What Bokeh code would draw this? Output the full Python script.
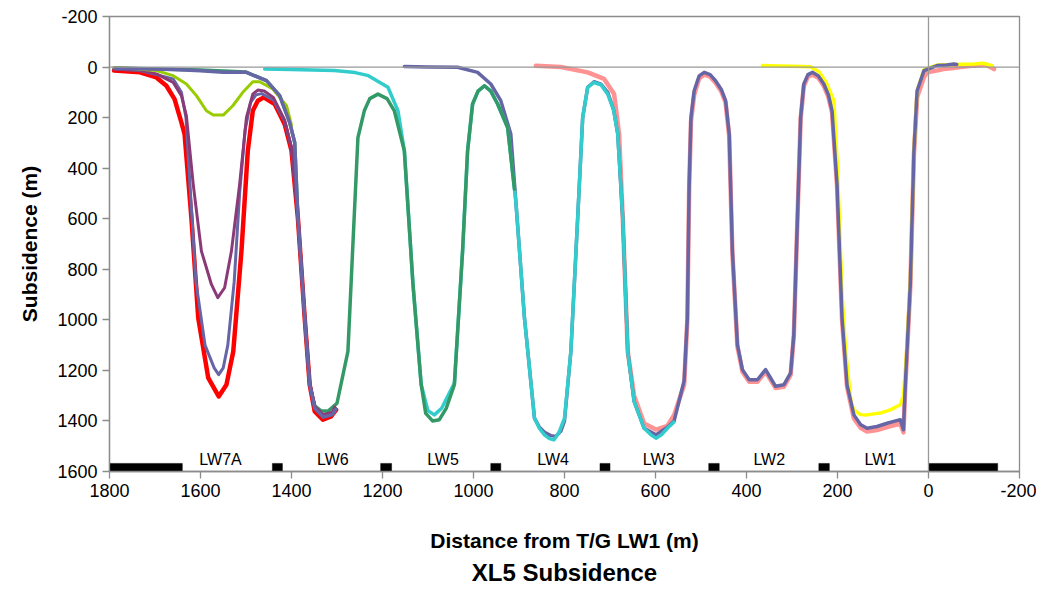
from bokeh.plotting import figure
from bokeh.models import Range1d, FixedTicker, Span, Title
from bokeh.core.properties import value
from bokeh.embed import file_html
from bokeh.resources import INLINE

# ---------------- data ----------------
x_ticks = [1800, 1600, 1400, 1200, 1000, 800, 600, 400, 200, 0, -200]
y_ticks = [-200, 0, 200, 400, 600, 800, 1000, 1200, 1400, 1600]

panel_names = ["LW7A", "LW6", "LW5", "LW4", "LW3", "LW2", "LW1"]
panel_label_x = [1556, 1309, 1067, 825, 593, 350, 106]
panel_label_y = [1551, 1551, 1551, 1551, 1551, 1551, 1551]

pillar_left = [1800, 1442, 1204, 962, 722, 483, 241, 0]
pillar_right = [1640, 1420, 1180, 940, 700, 460, 218, -152]
pillar_top = [1568, 1568, 1568, 1568, 1568, 1568, 1568, 1568]
pillar_bottom = [1600, 1600, 1600, 1600, 1600, 1600, 1600, 1600]

salmon_x = [863, 808, 749, 713, 691, 680, 672, 661, 647, 625, 599, 574, 559, 537, 530, 526, 522, 515, 504,
            493, 480, 468, 455, 446, 438, 431, 420, 409, 394, 376, 358, 336, 318, 303, 296, 288, 281, 274,
            265, 255, 242, 230, 220, 212, 201, 190, 179, 164, 149, 135, 113, 91, 62, 55, 51, 40, 32, 25, 10,
            3, -15, -33, -50, -70, -90, -107, -125, -144]
salmon_y = [-5, 0, 21, 47, 107, 265, 596, 1125, 1300, 1410, 1434, 1420, 1376, 1257, 1000, 480, 215, 110, 45,
            30, 38, 62, 98, 140, 275, 735, 1105, 1205, 1245, 1245, 1205, 1270, 1265, 1218, 1065, 600, 205,
            75, 38, 30, 42, 75, 118, 180, 470, 1000, 1265, 1390, 1428, 1442, 1436, 1424, 1410, 1445, 1265,
            870, 345, 120, 40, 21, 15, 8, 5, 0, -4, -6, -10, 8]

yellow_x = [365, 330, 300, 259, 240, 225, 208, 200, 190, 182, 170, 164, 150, 135, 120, 106, 84, 62, 55, 48,
            40, 32, 25, 10, -20, -60, -100, -120, -140]
yellow_y = [-6, -4, -3, -1, 20, 60, 133, 400, 900, 1125, 1330, 1356, 1375, 1376, 1372, 1369, 1356, 1336,
            1300, 1125, 850, 331, 94, 10, -8, -10, -12, -15, -5]

slate_x = [1152, 1100, 1035, 991, 962, 940, 918, 907, 888, 866, 855, 844, 830, 819, 808, 800, 786, 771, 760,
           749, 735, 720, 705, 692, 683, 672, 661, 647, 625, 599, 574, 559, 537, 530, 526, 522, 515, 504,
           493, 480, 468, 455, 446, 438, 431, 420, 409, 394, 376, 358, 336, 318, 303, 296, 288, 281, 274,
           265, 255, 242, 230, 220, 212, 201, 190, 179, 164, 149, 135, 113, 91, 62, 55, 51, 40, 32, 25, 10,
           -19, -40, -56, -62]
slate_y = [-2, 0, 1, 21, 67, 133, 265, 530, 992, 1389, 1425, 1445, 1458, 1461, 1440, 1400, 1125, 596, 199,
           80, 58, 68, 100, 170, 265, 596, 1125, 1323, 1429, 1455, 1425, 1400, 1240, 992, 464, 199, 94, 35,
           21, 30, 54, 90, 133, 265, 728, 1098, 1197, 1237, 1237, 1197, 1263, 1257, 1210, 1058, 596, 199,
           67, 30, 21, 35, 67, 110, 173, 464, 992, 1257, 1376, 1415, 1429, 1422, 1409, 1395, 1435, 1257,
           860, 331, 94, 14, -6, -8, -12, -10]

cyan_x = [1459, 1400, 1306, 1260, 1231, 1188, 1166, 1152, 1133, 1115, 1100, 1086, 1070, 1042, 1024, 1013,
          1002, 990, 976, 962, 947, 925, 910, 907, 888, 866, 855, 844, 833, 823, 812, 800, 786, 771, 760,
          749, 735, 720, 705, 692, 683, 672, 661, 647, 625, 610, 599, 587, 574, 560]
cyan_y = [8, 10, 14, 22, 34, 80, 173, 331, 860, 1256, 1360, 1376, 1350, 1250, 728, 332, 146, 95, 74, 95,
          146, 239, 483, 530, 992, 1389, 1430, 1455, 1470, 1475, 1445, 1389, 1125, 596, 199, 80, 61, 70,
          107, 170, 265, 596, 1125, 1323, 1429, 1455, 1468, 1455, 1429, 1405]

green_x = [1790, 1700, 1600, 1500, 1455, 1426, 1404, 1393, 1386, 1371, 1360, 1349, 1335, 1320, 1300, 1276,
           1265, 1254, 1240, 1228, 1210, 1190, 1174, 1152, 1133, 1115, 1105, 1090, 1075, 1060, 1042, 1024,
           1013, 1002, 990, 976, 962, 947, 925, 910]
green_y = [3, 8, 12, 20, 54, 113, 219, 298, 596, 992, 1257, 1340, 1360, 1362, 1330, 1125, 700, 279, 173,
           125, 107, 125, 173, 331, 860, 1256, 1370, 1400, 1395, 1350, 1257, 728, 332, 146, 95, 74, 95, 146,
           239, 483]

red_x = [1790, 1733, 1697, 1675, 1657, 1642, 1635, 1620, 1605, 1583, 1560, 1543, 1528, 1510, 1496, 1485,
         1474, 1461, 1437, 1415, 1400, 1386, 1371, 1360, 1349, 1331, 1313, 1302]
red_y = [14, 21, 41, 74, 127, 219, 265, 596, 992, 1230, 1303, 1257, 1125, 728, 331, 173, 133, 120, 146,
         226, 331, 596, 992, 1257, 1362, 1395, 1382, 1356]

slate7_x = [1790, 1733, 1697, 1660, 1642, 1632, 1622, 1610, 1590, 1570, 1560, 1550, 1540, 1526, 1514, 1502,
            1490, 1478, 1466, 1440, 1415, 1400, 1386, 1371, 1360, 1348, 1330, 1310, 1303]
slate7_y = [8, 14, 30, 47, 100, 200, 500, 850, 1100, 1190, 1217, 1190, 1100, 850, 500, 250, 140, 110, 105,
            130, 215, 320, 590, 990, 1250, 1350, 1380, 1370, 1350]

purple_x = [1790, 1733, 1697, 1660, 1642, 1631, 1616, 1598, 1576, 1562, 1547, 1532, 1514, 1499, 1485, 1474,
            1460, 1440, 1415, 1400, 1386, 1371, 1360, 1348, 1330, 1310, 1305]
purple_y = [8, 12, 27, 61, 113, 193, 464, 728, 860, 912, 873, 728, 464, 199, 107, 91, 95, 120, 210, 320,
            590, 985, 1250, 1345, 1375, 1365, 1345]

lime_x = [1790, 1760, 1697, 1660, 1631, 1609, 1587, 1572, 1550, 1529, 1507, 1485, 1470, 1441, 1411, 1400]
lime_y = [3, 5, 14, 34, 67, 113, 173, 190, 190, 153, 100, 58, 58, 87, 153, 230]

top_x = [1788, 1660, 1600, 1550, 1499, 1455, 1426, 1404, 1393, 1386, 1371, 1360, 1349, 1330, 1310, 1303]
top_y = [5, 10, 15, 21, 21, 54, 113, 219, 298, 590, 990, 1255, 1350, 1385, 1375, 1355]

# ---------------- figure ----------------
FONT = "Liberation Sans"
p = figure(width=1036, height=587, x_range=Range1d(1800, -200), y_range=Range1d(1600, -200),
           output_backend="svg", toolbar_location=None,
           min_border_left=109, min_border_right=17, min_border_top=16, min_border_bottom=116)
p.grid.visible = False
p.outline_line_color = "#8c8c8c"
p.outline_line_width = 1.3

for ax in (p.xaxis[0], p.yaxis[0]):
    ax.axis_line_color = "#8c8c8c"
    ax.axis_line_width = 1.3
    ax.major_tick_line_color = "#8c8c8c"
    ax.major_tick_line_width = 1.3
    ax.major_tick_out = 7
    ax.major_tick_in = 0
    ax.minor_tick_out = 0
    ax.minor_tick_in = 0
    ax.major_label_text_font = FONT
    ax.major_label_text_font_size = "18px"
    ax.major_label_text_color = "black"
    ax.major_label_standoff = 5
    ax.axis_label_text_font = FONT
    ax.axis_label_text_font_size = "21px"
    ax.axis_label_text_font_style = "bold"
    ax.axis_label_text_color = "black"

p.xaxis.ticker = FixedTicker(ticks=x_ticks)
p.yaxis.ticker = FixedTicker(ticks=y_ticks)
p.xaxis.major_label_overrides = {t: str(t) for t in x_ticks}
p.yaxis.major_label_overrides = {t: str(t) for t in y_ticks}
p.xaxis.axis_label = "Distance from T/G LW1 (m)"
p.yaxis.axis_label = "Subsidence (m)"
p.xaxis.axis_label_standoff = 29
p.yaxis.axis_label_standoff = 13

p.add_layout(Span(location=0, dimension="width", line_color="#999999", line_width=1.3))
p.add_layout(Span(location=0, dimension="height", line_color="#999999", line_width=1.3))

p.add_layout(Title(text="XL5 Subsidence", align="center", text_font=FONT, text_font_size="24px",
                   text_font_style="bold", text_color="black", standoff=4), "below")

# pillars and labels
p.quad(left=pillar_left, right=pillar_right, top=pillar_top, bottom=pillar_bottom,
       fill_color="black", line_color="black", line_width=0.5)
p.text(x=panel_label_x, y=panel_label_y, text=panel_names, text_font=value(FONT),
       text_font_size="16px", text_align="center", text_baseline="middle", text_color="black")

# profiles
kw = dict(line_join="round", line_cap="round")
p.line(salmon_x, salmon_y, line_color="#FF8080", line_width=4.5, line_alpha=0.85, **kw)
p.line(yellow_x, yellow_y, line_color="#FFFF00", line_width=3.5, **kw)
p.line(slate_x, slate_y, line_color="#6666A6", line_width=3.5, **kw)
p.line(cyan_x, cyan_y, line_color="#33CCCC", line_width=3.5, **kw)
p.line(green_x, green_y, line_color="#339966", line_width=3.5, **kw)
p.line(red_x, red_y, line_color="#FF0000", line_width=4.5, **kw)
p.line(slate7_x, slate7_y, line_color="#6666A6", line_width=3, **kw)
p.line(purple_x, purple_y, line_color="#8B3A78", line_width=3, **kw)
p.line(lime_x, lime_y, line_color="#99CC00", line_width=3, **kw)
p.line(top_x, top_y, line_color="#6666A6", line_width=3.5, **kw)

open("out.html", "w").write(file_html(p, INLINE))
